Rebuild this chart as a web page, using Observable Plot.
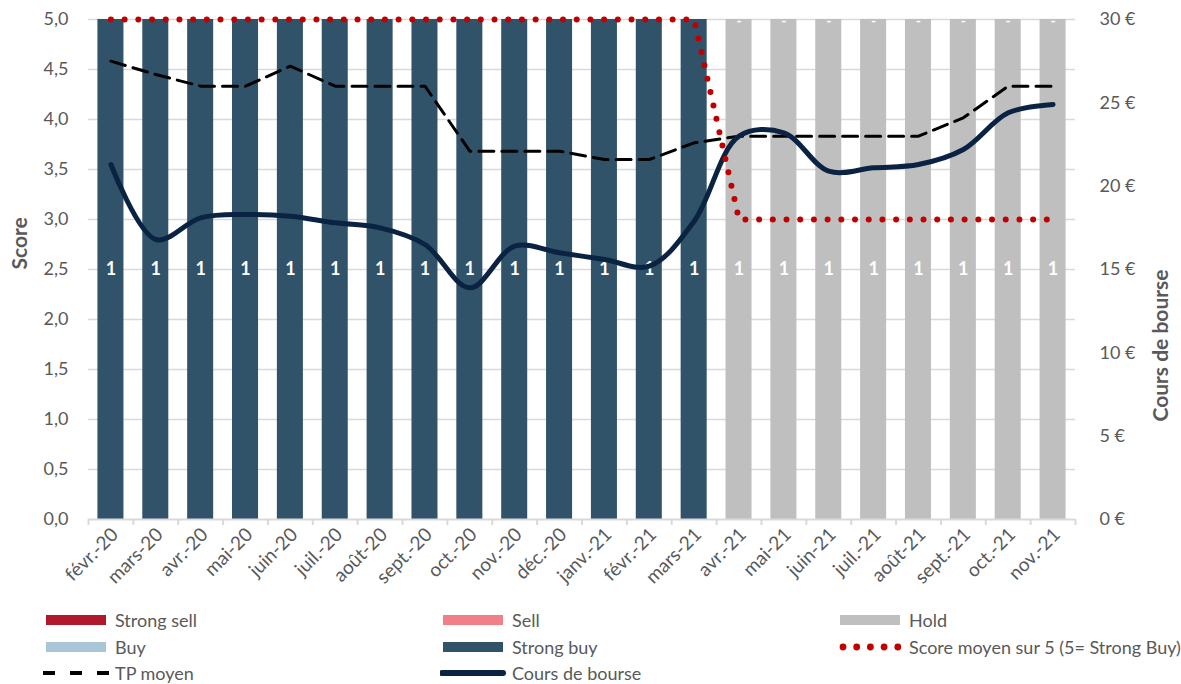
<!DOCTYPE html>
<html>
<head>
<meta charset="utf-8">
<script src="https://cdn.jsdelivr.net/npm/d3@7"></script>
<script src="https://cdn.jsdelivr.net/npm/@observablehq/plot@0.6"></script>
<style>
  body { margin: 0; background: #fff; font-family: Lato, "Liberation Sans", sans-serif; }
  #wrap { position: relative; width: 1181px; height: 684px; overflow: hidden; }
  #chart svg { display: block; }
  .lg { position: absolute; display: flex; align-items: center; height: 20px; font-size: 18px; color: #595959; white-space: nowrap; }
  .lg svg { display: block; margin-right: 6px; }
</style>
</head>
<body>
<div id="wrap">
  <div id="chart"></div>
  <div id="legend"></div>
</div>
<script>
// ---------- data ----------
const months = ["févr.-20","mars-20","avr.-20","mai-20","juin-20","juil.-20","août-20","sept.-20","oct.-20","nov.-20","déc.-20","janv.-21","févr.-21","mars-21","avr.-21","mai-21","juin-21","juil.-21","août-21","sept.-21","oct.-21","nov.-21"];
const ratings = ["Strong sell", "Sell", "Hold", "Buy", "Strong buy"];
const ratingColors = ["#B2182B", "#F07F8A", "#BFBFBF", "#A9C6D8", "#31536A"];

const strongSell = [0,0,0,0,0,0,0,0,0,0,0,0,0,0,0,0,0,0,0,0,0,0];
const sell       = [0,0,0,0,0,0,0,0,0,0,0,0,0,0,0,0,0,0,0,0,0,0];
const hold       = [0,0,0,0,0,0,0,0,0,0,0,0,0,0,1,1,1,1,1,1,1,1];
const buy        = [0,0,0,0,0,0,0,0,0,0,0,0,0,0,0,0,0,0,0,0,0,0];
const strongBuy  = [1,1,1,1,1,1,1,1,1,1,1,1,1,1,0,0,0,0,0,0,0,0];

// Score moyen sur 5 (left axis)
const scoreMoyen = [5,5,5,5,5,5,5,5,5,5,5,5,5,5,3,3,3,3,3,3,3,3];
// TP moyen (€, right axis)
const tpMoyen = [27.5,26.7,26.0,26.0,27.2,26.0,26.0,26.0,22.1,22.1,22.1,21.6,21.6,22.6,23.0,23.0,23.0,23.0,23.0,24.1,26.0,26.0];
// Cours de bourse (€, right axis)
const cours = [21.3,16.8,18.1,18.3,18.2,17.8,17.5,16.5,13.9,16.4,16.0,15.6,15.2,17.9,23.0,23.2,20.9,21.1,21.3,22.2,24.4,24.9];

// axis ticks
const scoreTicks = [0,0.5,1,1.5,2,2.5,3,3.5,4,4.5,5];
const euroTicks = [0,5,10,15,20,25,30];
const scoreMax = 5, euroMax = 30;
const euroPerScore = euroMax / scoreMax;

// ---------- derived tables ----------
const series = [strongSell, sell, hold, buy, strongBuy];
const table = [];
const totals = new Map();
months.forEach((m, i) => {
  const total = d3.sum(series, s => s[i]);
  totals.set(m, total ? scoreMax : 0);
  ratings.forEach((r, j) => {
    const c = series[j][i];
    table.push({month: m, rating: r, count: c, share: total ? c / total * scoreMax : 0});
  });
});
const lines = months.map((m, i) => ({month: m, score: scoreMoyen[i], tp: tpMoyen[i], cours: cours[i]}));

// ---------- layout ----------
const W = 1181, H = 600, mL = 88, mR = 106, mT = 19, mB = 81;
const step = (W - mL - mR) / months.length;
const inset = step * 0.21;
const grey = "#595959";

const chart = Plot.plot({
  width: W, height: H,
  marginLeft: mL, marginRight: mR, marginTop: mT, marginBottom: mB,
  style: {fontFamily: "Lato, 'Liberation Sans', sans-serif", color: grey, background: "#fff"},
  x: {domain: months, padding: 0, round: false, axis: null},
  y: {domain: [0, scoreMax], axis: null},
  color: {domain: ratings, range: ratingColors},
  marks: [
    Plot.ruleY(scoreTicks.filter(t => t > 0), {stroke: "#D9D9D9", strokeWidth: 1.4}),
    Plot.barY(table, {x: "month", y: "share", fill: "rating", z: "rating", order: ratings,
      insetLeft: inset, insetRight: inset}),
    Plot.ruleY([0], {stroke: "#D9D9D9", strokeWidth: 2}),
    // tick marks at category boundaries
    Plot.axisX(months, {tickSize: 6, tickFormat: () => "", dx: -step / 2, stroke: "#D9D9D9", strokeWidth: 2, label: null}),
    Plot.axisX([months[months.length - 1]], {tickSize: 6, tickFormat: () => "", dx: step / 2, stroke: "#D9D9D9", strokeWidth: 2, label: null}),
    // bar value labels
    Plot.text(table, Plot.stackY({x: "month", y: "share", z: "rating", order: ratings, filter: d => d.count > 0,
      text: d => String(d.count), fill: "white", fontWeight: "bold", fontSize: 18})),
    Plot.text(table.filter(d => d.rating === "Strong buy" && d.count === 0), {
      x: "month", y: d => totals.get(d.month), text: () => "-", dy: 2,
      fill: "white", fontWeight: "bold", fontSize: 14}),
    // lines
    Plot.line(lines, {x: "month", y: d => d.tp / euroPerScore, stroke: "#000", strokeWidth: 3,
      strokeDasharray: "15 8", curve: "linear"}),
    Plot.line(lines, {x: "month", y: d => d.cours / euroPerScore, stroke: "#0B2343", strokeWidth: 5,
      curve: "catmull-rom", strokeLinecap: "round", strokeLinejoin: "round"}),
    Plot.line(lines, {x: "month", y: "score", stroke: "#C00000", strokeWidth: 6,
      strokeDasharray: "0 13.7", strokeLinecap: "round", curve: "linear"}),
    // axes
    Plot.axisY(scoreTicks, {anchor: "left", tickSize: 0, tickPadding: 20, fontSize: 18,
      tickFormat: d => d.toFixed(1).replace(".", ","), label: null}),
    Plot.axisY(euroTicks.map(v => v / euroPerScore), {anchor: "right", tickSize: 0, tickPadding: 24, fontSize: 18,
      textAnchor: "start", tickFormat: d => `${Math.round(d * euroPerScore)} €`, label: null}),
    Plot.text(months, {x: d => d, frameAnchor: "bottom", text: d => d, rotate: -45, textAnchor: "end",
      lineAnchor: "middle", dx: 4, dy: 12, fontSize: 19, fill: grey}),
    // axis titles
    Plot.text(["Score"], {frameAnchor: "left", text: d => d, rotate: -90, dx: -68, fontSize: 21, fontWeight: "bold", fill: grey}),
    Plot.text(["Cours de bourse"], {frameAnchor: "right", text: d => d, rotate: -90, dx: 86, fontSize: 21, fontWeight: "bold", fill: grey})
  ]
});
document.getElementById("chart").append(chart);

// ---------- legend ----------
const legendItems = [
  {label: "Strong sell", kind: "bar", color: ratingColors[0]},
  {label: "Sell", kind: "bar", color: ratingColors[1]},
  {label: "Hold", kind: "bar", color: ratingColors[2]},
  {label: "Buy", kind: "bar", color: ratingColors[3]},
  {label: "Strong buy", kind: "bar", color: ratingColors[4]},
  {label: "Score moyen sur 5 (5= Strong Buy)", kind: "dots", color: "#C00000"},
  {label: "TP moyen", kind: "dash", color: "#000"},
  {label: "Cours de bourse", kind: "line", color: "#0B2343"}
];
const colX = [43, 440, 837];
const rowY = [610, 637, 663];
const legend = document.getElementById("legend");
legendItems.forEach((it, k) => {
  const div = document.createElement("div");
  div.className = "lg";
  div.style.left = colX[k % 3] + "px";
  div.style.top = rowY[Math.floor(k / 3)] + "px";
  let sw = "";
  if (it.kind === "bar") sw = `<rect x="3" y="5" width="60" height="10" fill="${it.color}"/>`;
  else if (it.kind === "dash") sw = `<line x1="0" x2="66" y1="10" y2="10" stroke="${it.color}" stroke-width="4" stroke-dasharray="12 15"/>`;
  else if (it.kind === "line") sw = `<line x1="2" x2="63" y1="10" y2="10" stroke="${it.color}" stroke-width="6" stroke-linecap="round"/>`;
  else sw = [0,1,2,3,4].map(j => `<circle cx="${6 + j * 13.7}" cy="10" r="3.4" fill="${it.color}"/>`).join("");
  div.innerHTML = `<svg width="66" height="20">${sw}</svg><span>${it.label}</span>`;
  legend.append(div);
});
</script>
</body>
</html>
